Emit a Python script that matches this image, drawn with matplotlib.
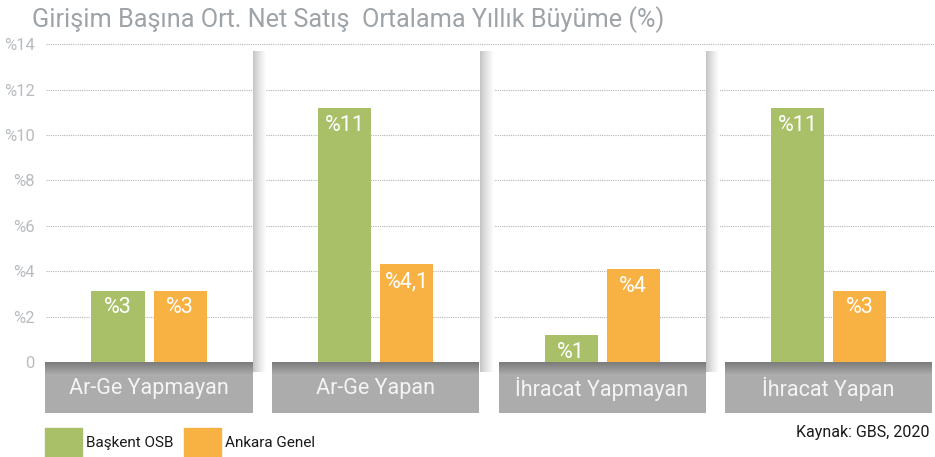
import numpy as np
import matplotlib.pyplot as plt
from matplotlib.patches import Rectangle

# data
categories = ["Ar-Ge Yapmayan", "Ar-Ge Yapan", "İhracat Yapmayan", "İhracat Yapan"]
baskent = [3.15, 11.2, 1.2, 11.2]
ankara = [3.15, 4.3, 4.1, 3.15]
baskent_lbl = ["%3", "%11", "%1", "%11"]
ankara_lbl = ["%3", "%4,1", "%4", "%3"]
yticks = [0, 2, 4, 6, 8, 10, 12, 14]
ytick_lbl = ["0", "%2", "%4", "%6", "%8", "%10", "%12", "%14"]

GREEN = "#a9c068"
ORANGE = "#f8b244"
BOXGRAY = "#acacac"
plt.rcParams["font.family"] = ["Roboto", "DejaVu Sans"]

W, H = 935, 457
fig = plt.figure(figsize=(W / 100, H / 100), dpi=100)
y0_px, y14_px = 362, 44.3
x_left, x_right = 46, 935
ax = fig.add_axes([x_left / W, 1 - y0_px / H, (x_right - x_left) / W, (y0_px - y14_px) / H])

step = 226.5  # px per group
c0 = 149.0
xl = (x_left - c0) / step
xr = (x_right - c0) / step
ppu = (y0_px - y14_px) / 14  # px per y unit

x = np.arange(len(categories))
bw = 53 / step
off = 31 / step

# shadow strips at panel separators
seps = [253, 480, 706]
grad = np.linspace(0, 1, 64)
rgba = np.ones((1, 64, 4))
for i, g in enumerate(grad):
    v = 0.76 + 0.24 * g ** 0.8
    rgba[0, i, :3] = v
for s in seps:
    xs = (s - c0) / step
    ax.imshow(rgba, extent=[xs, xs + 13 / step, -0.45, (y0_px - 52) / ppu],
              aspect="auto", zorder=1, clip_on=False, interpolation="bilinear")

for yv in yticks[1:]:
    ax.axhline(yv, color="#b5b5b5", lw=0.8, ls=(0, (1, 1)), zorder=0.5)

ax.bar(x - off, baskent, bw, color=GREEN, zorder=3)
ax.bar(x + off, ankara, bw, color=ORANGE, zorder=3)
for i in range(len(x)):
    ax.text(x[i] - off, baskent[i] - 0.3, baskent_lbl[i], ha="center", va="top",
            color="white", fontsize=15.5, zorder=4)
    ax.text(x[i] + off, ankara[i] - 0.3, ankara_lbl[i], ha="center", va="top",
            color="white", fontsize=15.5, zorder=4)

# category boxes
bh = (413 - y0_px) / ppu
boxw = 207 / step
for i, c in enumerate(categories):
    ax.add_patch(Rectangle((i - boxw / 2, -bh), boxw, bh, color=BOXGRAY,
                           clip_on=False, zorder=2, lw=0))
    # top shadow
    n = 12
    for k in range(n):
        a = 0.28 * (1 - k / n)
        ax.add_patch(Rectangle((i - boxw / 2, -(k + 1) / ppu), boxw, 1 / ppu,
                               color="black", alpha=a, clip_on=False, zorder=2.1, lw=0))
    ax.text(i, -bh / 2 - 0.05, c, ha="center", va="center", color="#f4f4f4",
            fontsize=15.5, zorder=4, clip_on=False)

ax.set_xlim(xl, xr)
ax.set_ylim(0, 14)
ax.set_yticks(yticks)
ax.set_yticklabels(ytick_lbl, color="#b8bcc0", fontsize=12)
ax.tick_params(axis="y", length=0, pad=8)
ax.set_xticks([])
for sp in ax.spines.values():
    sp.set_visible(False)

fig.text(32 / W, 1 - 20 / H, "Girişim Başına Ort. Net Satış  Ortalama Yıllık Büyüme (%)",
         ha="left", va="center", color="#9ea3a8", fontsize=18.2)

# legend
fig.patches.append(Rectangle((45 / W, 1 - 457 / H), 37 / W, 29 / H, color=GREEN,
                             transform=fig.transFigure))
fig.text(86 / W, 1 - 443 / H, "Başkent OSB", ha="left", va="center", fontsize=11, color="#1a1a1a")
fig.patches.append(Rectangle((184 / W, 1 - 457 / H), 37 / W, 29 / H, color=ORANGE,
                             transform=fig.transFigure))
fig.text(225 / W, 1 - 443 / H, "Ankara Genel", ha="left", va="center", fontsize=11, color="#1a1a1a")

fig.text(930 / W, 1 - 432 / H, "Kaynak: GBS, 2020", ha="right", va="center",
         fontsize=11.5, color="#1a1a1a")

fig.savefig("out.png", dpi=100)
